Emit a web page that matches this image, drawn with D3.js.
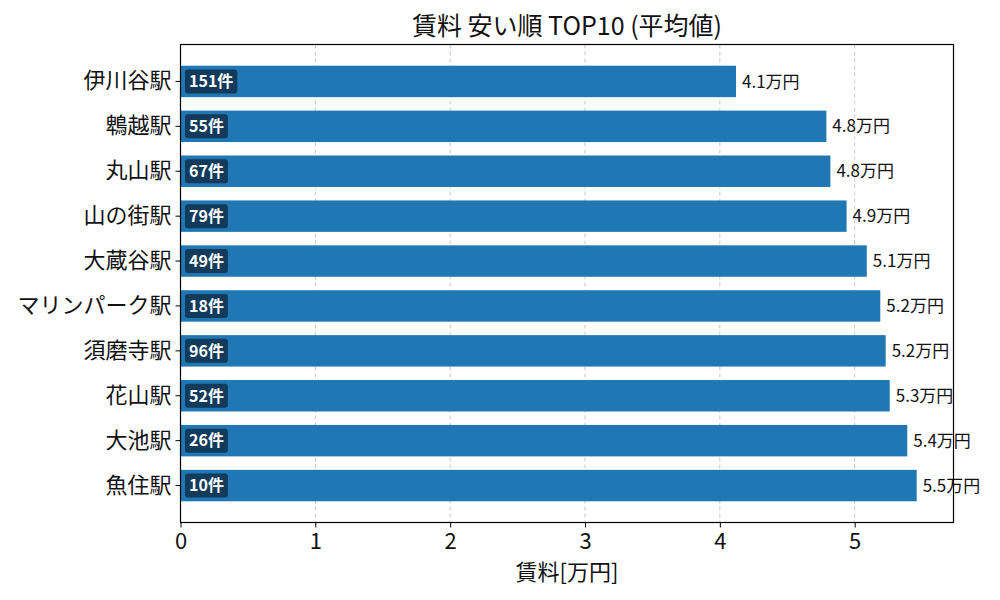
<!DOCTYPE html>
<html><head><meta charset="utf-8">
<script src="https://cdn.jsdelivr.net/npm/d3@7"></script>
<style>
html,body{margin:0;padding:0;background:#fff;}
text{font-family:"Noto Sans CJK JP","Noto Sans",sans-serif;}
</style></head>
<body><svg id="c" width="1000" height="600"></svg>
<script>
const stations = ["伊川谷駅","鵯越駅","丸山駅","山の街駅","大蔵谷駅","マリンパーク駅","須磨寺駅","花山駅","大池駅","魚住駅"];
const rents = [4.12, 4.79, 4.82, 4.94, 5.09, 5.19, 5.23, 5.26, 5.39, 5.46];
const counts = [151, 55, 67, 79, 49, 18, 96, 52, 26, 10];
const xTicks = [0, 1, 2, 3, 4, 5];
const titleText = "賃料 安い順 TOP10 (平均値)";
const xLabel = "賃料[万円]";

const svg = d3.select("#c");
const L = 180.5, R = 953.5, T = 44.5, B = 522.5;
const x = d3.scaleLinear().domain([0, d3.max(rents) * 1.05]).range([L, R]);
const y = d3.scaleBand().domain(stations).range([T, B]).paddingInner(0.3).paddingOuter(0.4725);

// grid
svg.append("g").selectAll("line").data(xTicks).join("line")
  .attr("x1", d => x(d)).attr("x2", d => x(d)).attr("y1", T).attr("y2", B)
  .attr("stroke", "#c8c8c8").attr("stroke-width", 1).attr("stroke-dasharray", "4,3");

// bars
svg.append("g").selectAll("rect").data(stations).join("rect")
  .attr("x", x(0)).attr("y", d => y(d))
  .attr("width", (d, i) => x(rents[i]) - x(0)).attr("height", y.bandwidth())
  .attr("fill", "#1f77b4");

// value labels
svg.append("g").selectAll("text").data(stations).join("text")
  .attr("x", (d, i) => x(rents[i]) + 6).attr("y", d => y(d) + y.bandwidth() / 2)
  .attr("dy", "0.36em").attr("font-size", 17).attr("fill", "#111")
  .text((d, i) => rents[i].toFixed(1) + "万円");

// count badges
const bg = svg.append("g");
stations.forEach((s, i) => {
  const cy = y(s) + y.bandwidth() / 2;
  const g = bg.append("g");
  const r = g.append("rect");
  const t = g.append("text").attr("x", 189).attr("y", cy).attr("dy", "0.36em")
    .attr("font-size", 16).attr("font-weight", "bold").attr("fill", "#fff")
    .text(counts[i] + "件");
  const w = t.node().getComputedTextLength();
  r.attr("x", 185).attr("y", cy - 12).attr("width", w + 8).attr("height", 24)
    .attr("rx", 3).attr("fill", "#123a5a");
});

// frame
svg.append("rect").attr("x", L).attr("y", T).attr("width", R - L).attr("height", B - T)
  .attr("fill", "none").attr("stroke", "#000").attr("stroke-width", 1.2);

// x axis
const xa = svg.append("g").attr("transform", `translate(0,${B})`)
  .call(d3.axisBottom(x).tickValues(xTicks).tickFormat(d3.format("d")).tickSize(5).tickPadding(6));
xa.select(".domain").remove();
xa.selectAll("text").attr("font-size", 22).attr("fill", "#111").attr("font-family", '"Noto Sans CJK JP",sans-serif');
xa.selectAll("line").attr("stroke", "#000");

// y axis
const ya = svg.append("g").attr("transform", `translate(${L},0)`)
  .call(d3.axisLeft(y).tickSize(5).tickPadding(4));
ya.select(".domain").remove();
ya.selectAll("text").attr("font-size", 22).attr("fill", "#111").attr("font-family", '"Noto Sans CJK JP",sans-serif');
ya.selectAll("line").attr("stroke", "#000");

// title & label
svg.append("text").attr("x", (L + R) / 2).attr("y", 35).attr("text-anchor", "middle")
  .attr("font-size", 25).attr("fill", "#111").text(titleText);
svg.append("text").attr("x", (L + R) / 2).attr("y", 580).attr("text-anchor", "middle")
  .attr("font-size", 22).attr("fill", "#111").text(xLabel);
</script></body></html>
